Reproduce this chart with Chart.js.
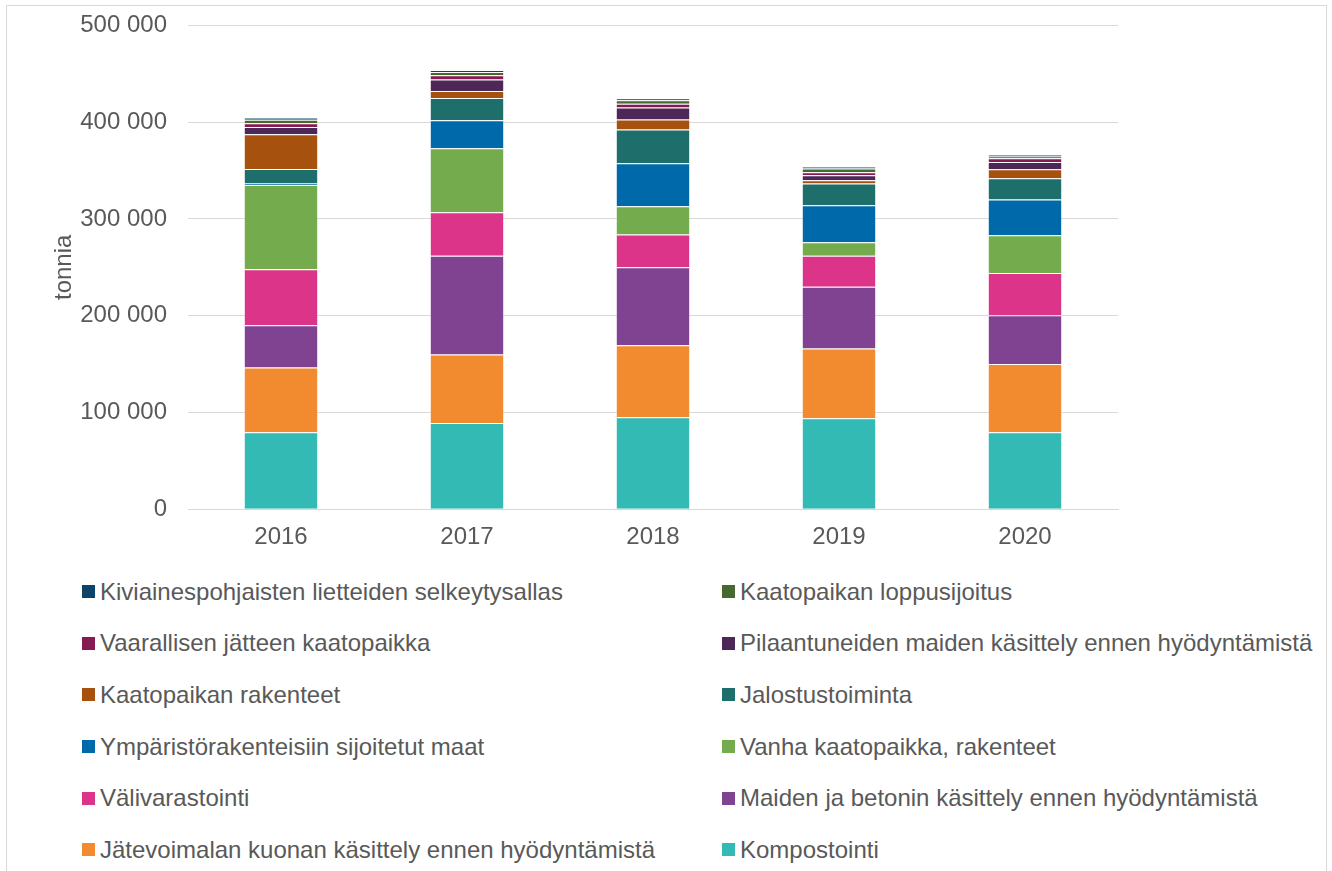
<!DOCTYPE html>
<html>
<head>
<meta charset="utf-8">
<script src="https://cdn.jsdelivr.net/npm/chart.js@4"></script>
<style>
body { margin: 0; background: #fff; font-family: "Liberation Sans", Arial, sans-serif; }
#frame { position: absolute; left: 6px; top: 5px; width: 1319px; height: 900px; border: 1px solid #d9d9d9; }
#wrap { position: absolute; left: 0; top: -10px; }
#legend { position: absolute; left: 82px; top: 566px; display: grid; grid-template-columns: 640px 600px; grid-auto-rows: 51.6px; font-size: 24px; color: #595959; }
.item { display: flex; align-items: center; white-space: nowrap; }
.box { width: 13px; height: 13px; margin-right: 5px; flex: none; }
</style>
</head>
<body>
<div id="frame"></div>
<div id="wrap"><canvas id="myChart" width="1332" height="576"></canvas></div>
<div id="legend"></div>
<script>
// data, bottom of the stack first
const years = ['2016', '2017', '2018', '2019', '2020'];

const kompostointi   = [79500, 89000, 95000, 94000, 79500];
const jatevoimala    = [67000, 71000, 74500, 72000, 70500];
const maidenBetonin  = [43500, 102000, 80500, 64000, 50500];
const valivarastointi = [58000, 45000, 34000, 32000, 43500];
const vanhaKaatopaikka = [87000, 66000, 29000, 14000, 39000];
const ymparisto      = [1500, 29000, 44500, 38000, 37000];
const jalostus       = [15000, 23000, 35000, 22500, 22000];
const rakenteet      = [36000, 7200, 10300, 3400, 9300];
const pilaantuneet   = [7500, 11800, 12400, 5200, 7500];
const vaarallinen    = [4000, 4500, 3700, 3100, 4000];
const loppusijoitus  = [3500, 3400, 3800, 4000, 1700];
const kiviaines      = [2400, 2000, 2000, 1700, 2000];

const yTicks = [0, 100000, 200000, 300000, 400000, 500000];

const series = [
  { label: 'Kompostointi', data: kompostointi, color: '#33bab5' },
  { label: 'Jätevoimalan kuonan käsittely ennen hyödyntämistä', data: jatevoimala, color: '#f28a30' },
  { label: 'Maiden ja betonin käsittely ennen hyödyntämistä', data: maidenBetonin, color: '#7f4392' },
  { label: 'Välivarastointi', data: valivarastointi, color: '#db3489' },
  { label: 'Vanha kaatopaikka, rakenteet', data: vanhaKaatopaikka, color: '#74ac4d' },
  { label: 'Ympäristörakenteisiin sijoitetut maat', data: ymparisto, color: '#0069a9' },
  { label: 'Jalostustoiminta', data: jalostus, color: '#1e6f6b' },
  { label: 'Kaatopaikan rakenteet', data: rakenteet, color: '#a6520e' },
  { label: 'Pilaantuneiden maiden käsittely ennen hyödyntämistä', data: pilaantuneet, color: '#4c2757' },
  { label: 'Vaarallisen jätteen kaatopaikka', data: vaarallinen, color: '#861b54' },
  { label: 'Kaatopaikan loppusijoitus', data: loppusijoitus, color: '#466930' },
  { label: 'Kiviainespohjaisten lietteiden selkeytysallas', data: kiviaines, color: '#0c4469' }
];

function fmt(v) {
  return String(v).replace(/\B(?=(\d{3})+(?!\d))/g, ' ');
}

const font = { family: 'Liberation Sans', size: 24 };

const ctx = document.getElementById('myChart');

const chart = new Chart(ctx, {
  type: 'bar',
  data: {
    labels: years,
    datasets: series.map(s => ({
      label: s.label,
      data: s.data,
      backgroundColor: s.color,
      borderColor: 'rgba(255,255,255,0.2)',
      borderWidth: 1,
      barPercentage: 0.4,
      categoryPercentage: 1
    }))
  },
  options: {
    responsive: false,
    animation: false,
    layout: { padding: { left: 50, right: 214, top: 0, bottom: 0 } },
    plugins: {
      legend: { display: false },
      tooltip: { enabled: false }
    },
    scales: {
      x: {
        stacked: true,
        grid: { display: false, drawTicks: false },
        border: { color: '#d9d9d9' },
        ticks: { color: '#595959', font: font, padding: 14 }
      },
      y: {
        stacked: true,
        min: 0,
        max: 500000,
        afterBuildTicks: axis => { axis.ticks = yTicks.map(v => ({ value: v })); },
        afterFit: axis => { axis.width = 138; },
        grid: { color: '#d9d9d9', drawTicks: false },
        border: { display: false },
        ticks: {
          color: '#595959',
          font: font,
          padding: 21,
          callback: v => fmt(v)
        },
        title: {
          display: true,
          text: 'tonnia',
          color: '#595959',
          font: font,
          padding: 0
        }
      }
    }
  }
});

// legend in two columns, same order as the original (top of stack first)
const legend = document.getElementById('legend');
chart.data.datasets.slice().reverse().forEach(ds => {
  const item = document.createElement('div');
  item.className = 'item';
  item.innerHTML = '<span class="box" style="background:' + ds.backgroundColor + '"></span>' + ds.label;
  legend.appendChild(item);
});
</script>
</body>
</html>
